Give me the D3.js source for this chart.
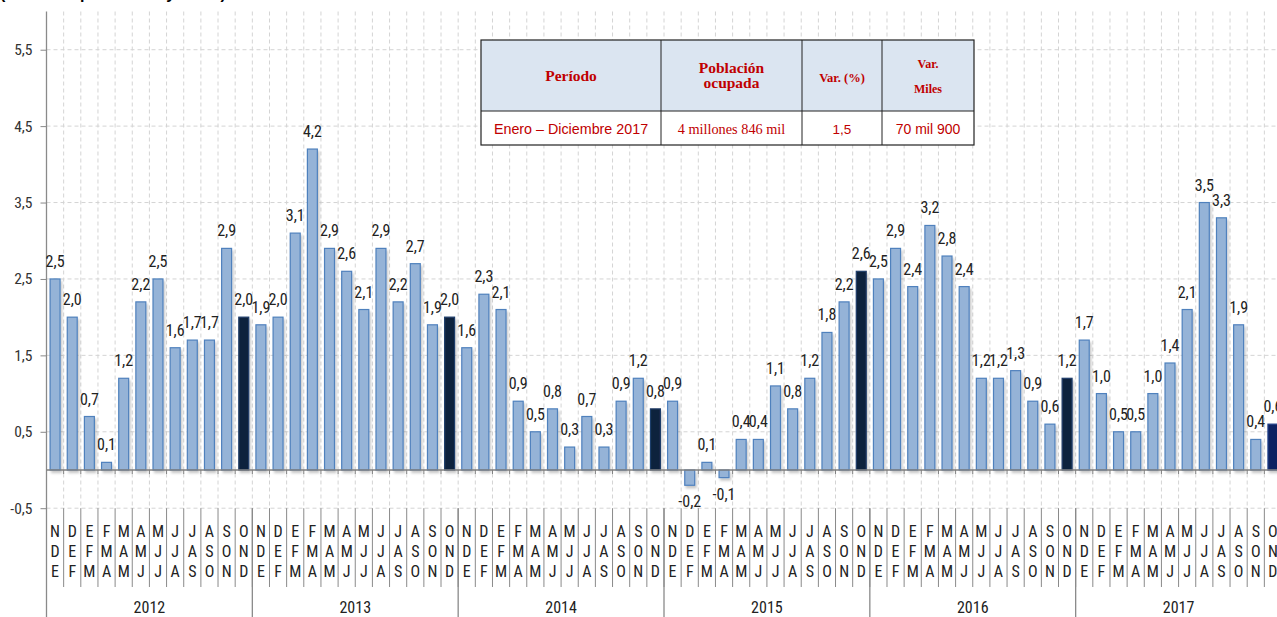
<!DOCTYPE html>
<html><head><meta charset="utf-8">
<script src="https://cdn.jsdelivr.net/npm/d3@7"></script>
<style>
body{margin:0;background:#fff;overflow:hidden}
svg{display:block}
.cond{font-family:"Liberation Sans Narrow","Arial Narrow","Roboto Condensed",sans-serif}
</style>
</head><body>
<svg id="c" width="1277" height="617"></svg>
<script>
// ---------- DATA ----------
const years = ["2012", "2013", "2014", "2015", "2016", "2017"];
const monthTriplets = ["NDE", "DEF", "EFM", "FMA", "MAM", "AMJ", "MJJ", "JJA", "JAS", "ASO", "SON", "OND"];
const values2012 = [2.5, 2.0, 0.7, 0.1, 1.2, 2.2, 2.5, 1.6, 1.7, 1.7, 2.9, 2.0];
const values2013 = [1.9, 2.0, 3.1, 4.2, 2.9, 2.6, 2.1, 2.9, 2.2, 2.7, 1.9, 2.0];
const values2014 = [1.6, 2.3, 2.1, 0.9, 0.5, 0.8, 0.3, 0.7, 0.3, 0.9, 1.2, 0.8];
const values2015 = [0.9, -0.2, 0.1, -0.1, 0.4, 0.4, 1.1, 0.8, 1.2, 1.8, 2.2, 2.6];
const values2016 = [2.5, 2.9, 2.4, 3.2, 2.8, 2.4, 1.2, 1.2, 1.3, 0.9, 0.6, 1.2];
const values2017 = [1.7, 1.0, 0.5, 0.5, 1.0, 1.4, 2.1, 3.5, 3.3, 1.9, 0.4, 0.6];
const yTicks = [-0.5, 0.5, 1.5, 2.5, 3.5, 4.5, 5.5];
const tableHeader = [["Período"], ["Población", "ocupada"], ["Var. (%)"], ["Var.", "Miles"]];
const tableRow = ["Enero – Diciembre 2017", "4 millones 846 mil", "1,5", "70 mil 900"];
const titleText = "(variación porcentual y miles)";

// ---------- BUILD ----------
const seriesByYear = [values2012, values2013, values2014, values2015, values2016, values2017];
const data = [];
years.forEach((yr, yi) => monthTriplets.forEach((m, mi) => {
  data.push({id: yr + "-" + m, year: yr, tri: m, v: seriesByYear[yi][mi], annual: m === "OND", last: yi === years.length - 1 && m === "OND"});
}));
const categories = data.map(d => d.id);

const svg = d3.select("#c");
const fmt = v => v.toFixed(1).replace(".", ",");

const y = d3.scaleLinear().domain([-0.5, 6.0]).range([508.2, 11.5]);
const x = d3.scaleBand().domain(categories).range([46.5, 1281.5]).paddingInner(0.42).paddingOuter(0.21);
const xb = d3.scaleBand().domain(categories).range([46.5, 1281.5]).padding(0);
const xYear = d3.scaleBand().domain(years).range([46.5, 1281.5]).padding(0);
const step = xb.step();

const defs = svg.append("defs");
const f = defs.append("filter").attr("id", "sh").attr("x", "-50%").attr("y", "-10%").attr("width", "200%").attr("height", "130%");
f.append("feDropShadow").attr("dx", 1.5).attr("dy", 2.5).attr("stdDeviation", 1.3).attr("flood-color", "#000").attr("flood-opacity", 0.22);

// partial title at top
svg.append("text").attr("x", 0).attr("y", -1.5).attr("font-family", "Liberation Sans, Arial, sans-serif")
  .attr("font-weight", "bold").attr("font-size", 16).attr("fill", "#000").text(titleText);

// horizontal dashed gridlines
svg.append("g").selectAll("line").data(yTicks).join("line")
  .attr("x1", 46.5).attr("x2", 1277).attr("y1", d => y(d)).attr("y2", d => y(d))
  .attr("stroke", "#d4d4d4").attr("stroke-dasharray", "4,3").attr("stroke-width", 1);

// vertical dashed gridlines
svg.append("g").selectAll("line").data(categories).join("line")
  .attr("x1", d => xb(d) + step).attr("x2", d => xb(d) + step)
  .attr("y1", y(6.0)).attr("y2", y(-0.5))
  .attr("stroke", "#d4d4d4").attr("stroke-dasharray", "4,3").attr("stroke-width", 1);

// y axis
const yAxis = d3.axisLeft(y).tickValues(yTicks).tickSize(6).tickPadding(8).tickFormat(fmt);
const ga = svg.append("g").attr("transform", "translate(46.5,0)").call(yAxis);
ga.select(".domain").remove();
ga.selectAll(".tick line").attr("stroke", "#888");
ga.selectAll(".tick text").attr("class", "cond").attr("font-size", 15.5).attr("fill", "#333");
svg.append("line").attr("x1", 46.5).attr("x2", 46.5).attr("y1", y(6.0)).attr("y2", 617)
  .attr("stroke", "#8a8a8a").attr("stroke-width", 1.3);

// bars
svg.append("g").attr("filter", "url(#sh)").selectAll("rect").data(data).join("rect")
  .attr("x", d => x(d.id)).attr("width", x.bandwidth())
  .attr("y", d => y(Math.max(0, d.v)))
  .attr("height", d => Math.abs(y(d.v) - y(0)))
  .attr("fill", d => d.last ? "#0b2462" : d.annual ? "#10243e" : "#95b3d7")
  .attr("stroke", d => d.last ? "#1f3f8a" : d.annual ? "#1f3d6a" : "#4f81bd")
  .attr("stroke-width", 1.2);

// zero line
svg.append("line").attr("x1", 46.5).attr("x2", 1277).attr("y1", y(0)).attr("y2", y(0))
  .attr("stroke", "#7f7f7f").attr("stroke-width", 1.5);
svg.append("g").selectAll("line").data(categories).join("line")
  .attr("x1", d => xb(d) + step).attr("x2", d => xb(d) + step)
  .attr("y1", y(0)).attr("y2", y(0) + 4).attr("stroke", "#7f7f7f").attr("stroke-width", 1);

// value labels
svg.append("g").selectAll("text").data(data).join("text")
  .attr("class", "cond").attr("font-size", 16).attr("fill", "#222").attr("text-anchor", "middle")
  .attr("x", d => x(d.id) + x.bandwidth() / 2)
  .attr("y", d => d.v >= 0 ? y(d.v) - 12 : y(d.v) + 22)
  .text(d => fmt(d.v));

// category separators
svg.append("g").selectAll("line").data(categories).join("line")
  .attr("x1", d => xb(d) + step).attr("x2", d => xb(d) + step)
  .attr("y1", y(-0.5)).attr("y2", 587).attr("stroke", "#8a8a8a").attr("stroke-width", 1);
// year separators
svg.append("g").selectAll("line").data(years.slice(1)).join("line")
  .attr("x1", d => xYear(d)).attr("x2", d => xYear(d))
  .attr("y1", y(-0.5)).attr("y2", 617).attr("stroke", "#8a8a8a").attr("stroke-width", 1.3);

// category labels (stacked letters)
const cl = svg.append("g").selectAll("g").data(data).join("g")
  .attr("transform", d => `translate(${xb(d.id) + step / 2},0)`);
[537, 557, 577].forEach((yy, k) => {
  cl.append("text").attr("class", "cond").attr("font-size", 16).attr("fill", "#222")
    .attr("text-anchor", "middle").attr("y", yy).text(d => d.tri[k]);
});

// year labels
svg.append("g").selectAll("text").data(years).join("text")
  .attr("class", "cond").attr("font-size", 16).attr("fill", "#222").attr("text-anchor", "middle")
  .attr("x", d => xYear(d) + xYear.bandwidth() / 2).attr("y", 613).text(d => d);

// ---------- TABLE ----------
const colEdges = [481, 661, 802, 882, 974];
const tTop = 40, tMid = 111, tBot = 145;
const tg = svg.append("g");
tg.append("rect").attr("x", colEdges[0]).attr("y", tTop).attr("width", colEdges[4] - colEdges[0]).attr("height", tMid - tTop)
  .attr("fill", "#dbe5f1");
tg.append("rect").attr("x", colEdges[0]).attr("y", tMid).attr("width", colEdges[4] - colEdges[0]).attr("height", tBot - tMid)
  .attr("fill", "#fff");
tg.append("rect").attr("x", colEdges[0]).attr("y", tTop).attr("width", colEdges[4] - colEdges[0]).attr("height", tBot - tTop)
  .attr("fill", "none").attr("stroke", "#222").attr("stroke-width", 1.2);
tg.append("line").attr("x1", colEdges[0]).attr("x2", colEdges[4]).attr("y1", tMid).attr("y2", tMid).attr("stroke", "#222").attr("stroke-width", 1);
colEdges.slice(1, 4).forEach(cx => tg.append("line").attr("x1", cx).attr("x2", cx).attr("y1", tTop).attr("y2", tBot).attr("stroke", "#222").attr("stroke-width", 1));

const headerBaselines = [[81], [73, 88], [81.5], [67.5, 93]];
const headerSizes = [15.5, 15.5, 12.5, 12];
tableHeader.forEach((lines, i) => {
  const cx = (colEdges[i] + colEdges[i + 1]) / 2;
  lines.forEach((t, k) => {
    tg.append("text").attr("x", cx).attr("y", headerBaselines[i][k]).attr("text-anchor", "middle")
      .attr("font-family", "Liberation Serif, serif").attr("font-weight", "bold").attr("font-size", headerSizes[i])
      .attr("fill", "#c00000").text(t);
  });
});
const rowFonts = ["Liberation Sans, Arial, sans-serif", "Liberation Serif, serif", "Liberation Sans, Arial, sans-serif", "Liberation Sans, Arial, sans-serif"];
const rowSizes = [14.3, 14.3, 13.5, 14];
tableRow.forEach((t, i) => {
  const cx = (colEdges[i] + colEdges[i + 1]) / 2;
  tg.append("text").attr("x", cx).attr("y", 134).attr("text-anchor", "middle")
    .attr("font-family", rowFonts[i]).attr("font-size", rowSizes[i]).attr("fill", "#c00000").text(t);
});
</script>
</body></html>
